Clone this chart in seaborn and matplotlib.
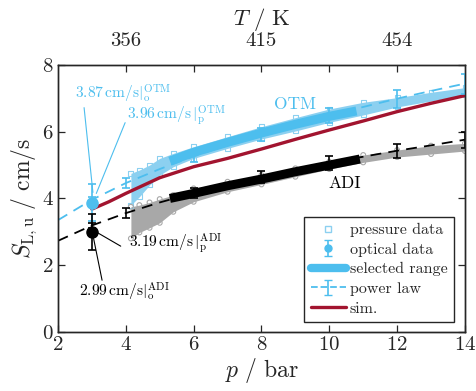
import numpy as np
import pandas as pd
import matplotlib
matplotlib.use("Agg")
import matplotlib.pyplot as plt
import seaborn as sns
from matplotlib.lines import Line2D

# ---------------- data ----------------
p_line = [2, 3, 4, 5, 6, 7, 8, 9, 10, 11, 12, 13, 14]
otm_power = [3.35, 3.96, 4.46, 4.88, 5.26, 5.60, 5.92, 6.21, 6.49, 6.74, 6.99, 7.22, 7.44]
adi_power = [2.73, 3.19, 3.56, 3.88, 4.16, 4.41, 4.65, 4.86, 5.06, 5.25, 5.43, 5.59, 5.76]

p_err = [3, 4, 6, 8, 10, 12, 14]
otm_err_c = [3.96, 4.46, 5.26, 5.92, 6.49, 6.99, 7.44]
otm_err = [0.08, 0.15, 0.17, 0.20, 0.23, 0.27, 0.30]
adi_err_c = [3.19, 3.56, 4.16, 4.65, 5.06, 5.43, 5.76]
adi_err = [0.08, 0.15, 0.16, 0.18, 0.20, 0.21, 0.24]

p_sim = [3, 3.5, 4, 5, 6, 7, 8, 9, 10, 11, 12, 13, 14]
sim = [3.68, 3.90, 4.15, 4.62, 4.95, 5.20, 5.48, 5.77, 6.05, 6.32, 6.60, 6.85, 7.08]

p_press = [4.15, 4.4, 4.7, 5.0, 5.4, 6, 7, 8, 9, 10, 11, 12, 13, 14]
otm_lo = [3.80, 4.05, 4.40, 4.70, 4.95, 5.20, 5.50, 5.78, 6.02, 6.28, 6.50, 6.74, 6.92, 7.10]
otm_hi = [4.75, 4.85, 5.00, 5.20, 5.35, 5.55, 5.85, 6.15, 6.42, 6.68, 6.88, 7.02, 7.18, 7.32]
adi_lo = [2.80, 2.98, 3.12, 3.27, 3.60, 3.90, 4.20, 4.42, 4.65, 4.88, 5.08, 5.24, 5.33, 5.42]
adi_hi = [3.75, 3.80, 3.88, 3.98, 4.10, 4.30, 4.50, 4.70, 4.90, 5.10, 5.30, 5.45, 5.58, 5.65]

p_sel_otm = [5.3, 6, 7, 8, 9, 10, 10.8]
otm_sel = [5.12, 5.38, 5.68, 5.96, 6.22, 6.46, 6.62]
p_sel_adi = [5.3, 6, 7, 8, 9, 10, 10.9]
adi_sel = [4.00, 4.15, 4.38, 4.58, 4.80, 5.00, 5.18]

p_opt = [3]
otm_opt = [3.87]
otm_opt_err = [0.55]
adi_opt = [2.99]
adi_opt_err = [0.53]

x_ticks = [2, 4, 6, 8, 10, 12, 14]
y_ticks = [0, 2, 4, 6, 8]
t_tick_pos = [4, 6, 8, 10, 12]
t_tick_labels = ["356", "", "415", "", "454"]

# ---------------- style ----------------
sns.set_style("ticks")
plt.rcParams.update({
    "font.family": "serif",
    "font.serif": ["cmr10", "DejaVu Serif"],
    "mathtext.fontset": "cm",
    "axes.formatter.use_mathtext": True,
    "axes.linewidth": 1.0,
    "axes.edgecolor": "#262626",
})

BLUE = "#4DBEEE"
LBLUE = "#8CD0F0"
GRAY = "#A8A8A8"
RED = "#A2142F"

fig = plt.figure(figsize=(4.76, 3.91), dpi=100)
ax = fig.add_axes([0.1218, 0.151, 0.855, 0.683])

# pressure data bands
ax.fill_between(p_press, otm_lo, otm_hi, color=LBLUE, lw=0, zorder=1)
ax.fill_between(p_press, adi_lo, adi_hi, color=GRAY, lw=0, zorder=1)
for lo_hi in (otm_lo, otm_hi):
    sns.scatterplot(x=p_press, y=lo_hi, ax=ax, marker="s", s=12,
                    facecolor="none", edgecolor=LBLUE, linewidth=0.8, zorder=1.5)
for lo_hi in (adi_lo, adi_hi):
    sns.scatterplot(x=p_press, y=lo_hi, ax=ax, marker="o", s=12,
                    facecolor="none", edgecolor=GRAY, linewidth=0.8, zorder=1.5)

# power-law fits (dashed)
sns.lineplot(x=p_line, y=otm_power, ax=ax, color=BLUE, lw=1.3,
             linestyle=(0, (6, 4)), zorder=2)
sns.lineplot(x=p_line, y=adi_power, ax=ax, color="black", lw=1.3,
             linestyle=(0, (6, 4)), zorder=2)

# selected range
sns.lineplot(x=p_sel_otm, y=otm_sel, ax=ax, color=BLUE, lw=6.5, zorder=3,
             solid_capstyle="butt")
sns.lineplot(x=p_sel_adi, y=adi_sel, ax=ax, color="black", lw=6.5, zorder=3,
             solid_capstyle="butt")

# simulation
sns.lineplot(x=p_sim, y=sim, ax=ax, color=RED, lw=2.4, zorder=4)

# power law error bars
ax.errorbar(p_err, otm_err_c, yerr=otm_err, fmt="none", ecolor=BLUE,
            elinewidth=1.2, capsize=3, capthick=1.2, zorder=5)
ax.errorbar(p_err, adi_err_c, yerr=adi_err, fmt="none", ecolor="black",
            elinewidth=1.2, capsize=3, capthick=1.2, zorder=5)

# optical data
ax.errorbar(p_opt, otm_opt, yerr=otm_opt_err, fmt="o", color=BLUE, ms=8,
            elinewidth=1.2, capsize=3, capthick=1.2, zorder=6)
ax.errorbar(p_opt, adi_opt, yerr=adi_opt_err, fmt="o", color="black", ms=8,
            elinewidth=1.2, capsize=3, capthick=1.2, zorder=6)

# annotations
fs_ann = 11.2
ax.text(2.5, 6.98, r"$3.87\,\mathrm{cm/s}|_{\mathrm{o}}^{\mathrm{OTM}}$",
        color=BLUE, fontsize=fs_ann, ha="left", va="baseline")
ax.plot([2.77, 3.03], [6.72, 4.18], color=BLUE, lw=0.8, zorder=5)
ax.text(4.03, 6.35, r"$3.96\,\mathrm{cm/s}\,|_{\mathrm{p}}^{\mathrm{OTM}}$",
        color=BLUE, fontsize=fs_ann, ha="left", va="baseline")
ax.plot([3.98, 3.13], [6.27, 4.15], color=BLUE, lw=0.8, zorder=5)
ax.text(4.08, 2.53, r"$3.19\,\mathrm{cm/s}\,|_{\mathrm{p}}^{\mathrm{ADI}}$",
        color="black", fontsize=fs_ann, ha="left", va="baseline")
ax.plot([3.12, 3.85], [3.0, 2.57], color="black", lw=0.8, zorder=5)
ax.text(2.62, 1.05, r"$2.99\,\mathrm{cm/s}|_{\mathrm{o}}^{\mathrm{ADI}}$",
        color="black", fontsize=fs_ann, ha="left", va="baseline")
ax.plot([3.05, 3.3], [2.8, 1.55], color="black", lw=0.8, zorder=5)
ax.text(9.0, 6.83, "OTM", color=BLUE, fontsize=12.5, ha="center", va="center")
ax.text(10.47, 4.45, "ADI", color="black", fontsize=12.5, ha="center", va="center")

# axes
ax.set_xlim(2, 14)
ax.set_ylim(0, 8)
ax.set_xticks(x_ticks)
ax.set_yticks(y_ticks)
ax.tick_params(direction="in", length=5, width=0.9, labelsize=15,
               top=False, right=True, pad=3)
ax.set_xlabel(r"$p\ /\ \mathrm{bar}$", fontsize=17, labelpad=1)
ax.set_ylabel(r"$S_{\mathrm{L,u}}\ /\ \mathrm{cm/s}$", fontsize=17, labelpad=2)

ax2 = ax.twiny()
ax2.set_xlim(ax.get_xlim())
ax2.set_xticks(t_tick_pos)
ax2.set_xticklabels(t_tick_labels)
ax2.tick_params(direction="in", length=5, width=0.9, labelsize=15, pad=11)
ax2.set_xlabel(r"$T\ /\ \mathrm{K}$", fontsize=16.5, labelpad=5)

# legend
handles = [
    Line2D([], [], ls="none", marker="s", mfc="none", mec=LBLUE, ms=5, mew=1.0),
    ax.errorbar([np.nan], [np.nan], yerr=[np.nan], fmt="o", color=BLUE, ms=5,
                capsize=3, elinewidth=1.2),
    Line2D([], [], color=BLUE, lw=6),
    ax.errorbar([np.nan], [np.nan], yerr=[np.nan], fmt="--", color=BLUE,
                lw=1.3, capsize=3, elinewidth=1.2),
    Line2D([], [], color=RED, lw=2.4),
]
labels = ["pressure data", "optical data", "selected range", "power law", "sim."]
leg = ax.legend(handles, labels, loc="lower right", bbox_to_anchor=(0.973, 0.037),
                fontsize=11.5, frameon=True, fancybox=False, edgecolor="#262626",
                framealpha=1, handlelength=2.2, handletextpad=0.25,
                labelspacing=0.34, borderpad=0.4, borderaxespad=0)
leg.get_frame().set_linewidth(1.0)
leg.set_zorder(10)

fig.savefig("out.png", dpi=100)
